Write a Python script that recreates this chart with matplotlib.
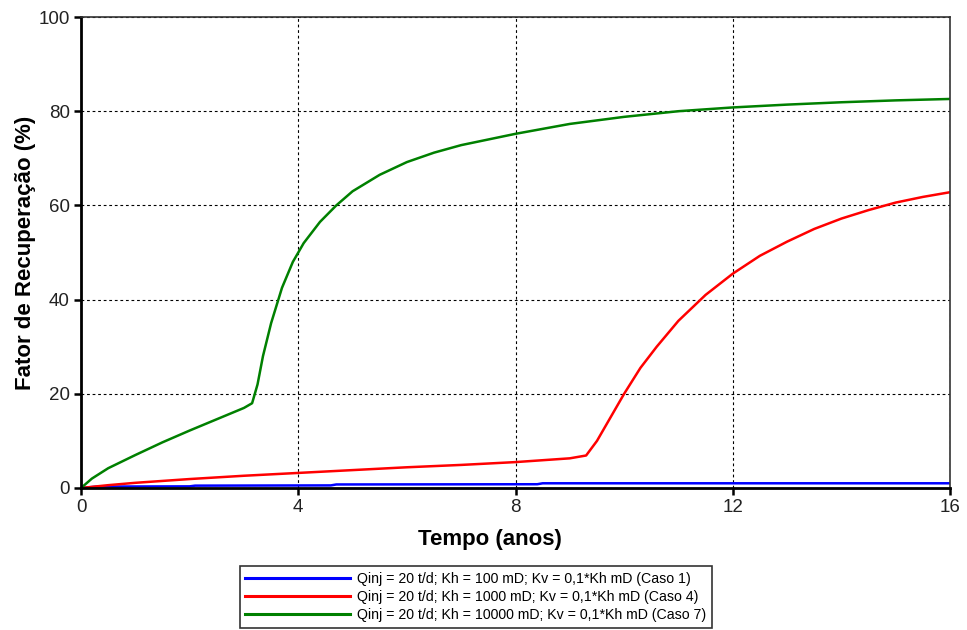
import numpy as np
import matplotlib.pyplot as plt

## dados (tempo em anos, fator de recuperacao em %) ##
t_caso1 = [0, 0.3, 2.0, 2.1, 4.6, 4.7, 8.4, 8.5, 12, 16]
fr_caso1 = [0, 0.3, 0.35, 0.5, 0.55, 0.75, 0.8, 1.0, 1.0, 1.0]

t_caso4 = [0, 0.5, 1, 2, 3, 4, 5, 6, 7, 8, 8.5, 9, 9.3, 9.5, 9.7, 10, 10.3, 10.6,
           11, 11.5, 12, 12.5, 13, 13.5, 14, 14.5, 15, 15.5, 16]
fr_caso4 = [0, 0.6, 1.1, 1.9, 2.6, 3.2, 3.8, 4.4, 4.9, 5.5, 5.9, 6.3, 6.9, 10, 14,
            20, 25.5, 30, 35.5, 41, 45.5, 49.3, 52.3, 55, 57.2, 59, 60.6, 61.8, 62.8]

t_caso7 = [0, 0.2, 0.5, 1, 1.5, 2, 2.5, 3, 3.15, 3.25, 3.35, 3.5, 3.7, 3.9, 4.1,
           4.4, 4.7, 5, 5.5, 6, 6.5, 7, 8, 9, 10, 11, 12, 13, 14, 15, 16]
fr_caso7 = [0, 2, 4.2, 7, 9.7, 12.2, 14.6, 17, 18, 22, 28, 35, 42.5, 48, 52,
            56.5, 60, 63, 66.5, 69.2, 71.2, 72.8, 75.2, 77.3, 78.8, 80, 80.8,
            81.4, 81.9, 82.3, 82.6]

labels = ["Qinj = 20 t/d; Kh = 100 mD; Kv = 0,1*Kh mD (Caso 1)",
          "Qinj = 20 t/d; Kh = 1000 mD; Kv = 0,1*Kh mD (Caso 4)",
          "Qinj = 20 t/d; Kh = 10000 mD; Kv = 0,1*Kh mD (Caso 7)"]
cores = ["#0000ff", "#ff0000", "#008000"]

plt.rcParams['font.family'] = ['Liberation Sans', 'DejaVu Sans']

fig = plt.figure(figsize=(9.67, 6.3), dpi=100)
ax = fig.add_axes([0.0838, 0.2254, 0.8986, 0.7476])

ax.plot(t_caso1, fr_caso1, c=cores[0], lw=1.8, label=labels[0])
ax.plot(t_caso4, fr_caso4, c=cores[1], lw=1.8, label=labels[1])
ax.plot(t_caso7, fr_caso7, c=cores[2], lw=1.8, label=labels[2])

ax.set_xlim(0, 16)
ax.set_ylim(0, 100)
ax.set_xticks([0, 4, 8, 12, 16])
ax.set_yticks([0, 20, 40, 60, 80, 100])
ax.grid(True, ls=(0, (2.5, 2.5)), c="black", lw=0.8)
ax.tick_params(direction="out", length=5, width=1.8, labelsize=13.5,
               labelcolor="#222222", pad=3)
for s in ["left", "bottom"]:
    ax.spines[s].set_linewidth(2)
for s in ["top", "right"]:
    ax.spines[s].set_linewidth(1.2)
    ax.spines[s].set_color("#333333")

ax.set_xlabel("Tempo (anos)", fontsize=16, fontweight="bold")
ax.set_ylabel("Fator de Recuperação (%)", fontsize=16, fontweight="bold")
ax.xaxis.set_label_coords(0.47, -0.088)
ax.yaxis.set_label_coords(-0.052, 0.5)

leg = fig.legend(loc="lower center", bbox_to_anchor=(0.492, -0.008), fontsize=10.2,
                 handlelength=7.4, frameon=True, fancybox=False, edgecolor="black",
                 borderpad=0.4, labelspacing=0.3, handletextpad=0.5)
leg.get_frame().set_linewidth(1.2)
for l in leg.get_lines():
    l.set_linewidth(2.2)

plt.savefig("out.png", dpi=100)
